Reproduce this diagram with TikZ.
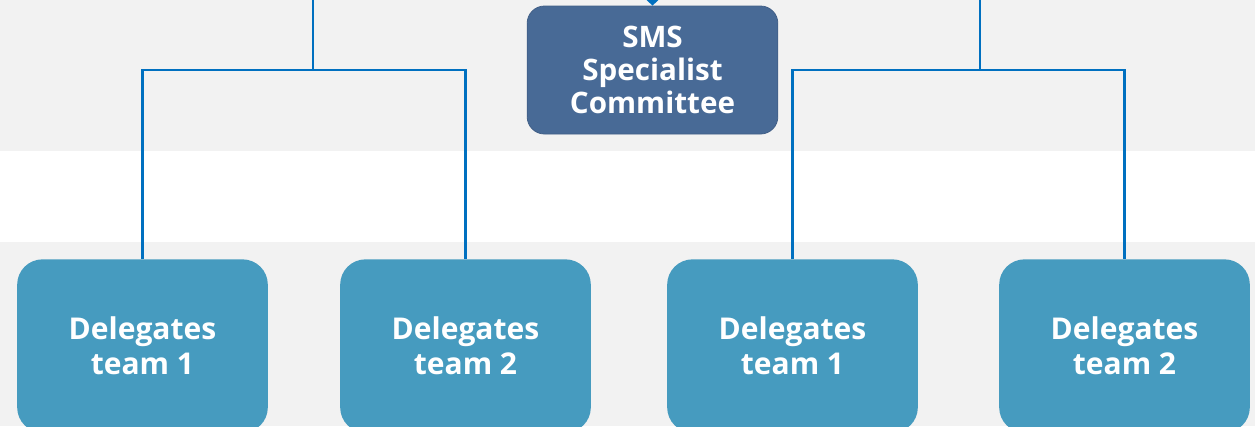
\documentclass[tikz,border=0pt]{standalone}
\usepackage{fontspec}
\setmainfont{Open Sans}
\usetikzlibrary{arrows.meta}
\definecolor{bggray}{HTML}{F2F2F2}
\definecolor{smsblue}{HTML}{486A96}
\definecolor{teamblue}{HTML}{469BBF}
\definecolor{linkblue}{HTML}{0070C0}
\begin{document}
\begin{tikzpicture}[x=0.75pt,y=-0.75pt,
  box/.style={minimum width=188pt,inner sep=0pt,text=white,align=center},
  smsbox/.style={box,rounded corners=13pt,fill=smsblue,draw=smsblue!90!black,line width=0.6pt,
    minimum height=96pt,font=\bfseries\fontsize{22.2}{24.8}\selectfont},
  teambox/.style={box,rounded corners=19pt,fill=teamblue,minimum height=130pt,
    font=\bfseries\fontsize{22.5}{26.2}\selectfont},
  link/.style={draw=linkblue,line width=2.2pt},
  ]
\useasboundingbox (0,0) rectangle (1255,426);
\clip (0,0) rectangle (1255,426);
\fill[bggray] (0,0) rectangle (1255,151);
\fill[white] (0,151) rectangle (1255,242);
\fill[bggray] (0,242) rectangle (1255,426);

\node[smsbox] (sms) at (652.5,70) {SMS\\Specialist\\Committee};
\node[teambox] (t1) at (142.5,346) {Delegates\\team 1};
\node[teambox] (t2) at (465.5,346) {Delegates\\team 2};
\node[teambox] (t3) at (792.5,346) {Delegates\\team 1};
\node[teambox] (t4) at (1124.5,346) {Delegates\\team 2};

\coordinate (topin) at (652.5,-30);
\coordinate (ltop) at (313,-10);
\coordinate (rtop) at (980,-10);

\draw[link,-{Straight Barb[length=8pt,width=17pt,line width=2.2pt]}] (topin) -- (sms.north);
\draw[link] (ltop) -- (313,70);
\draw[link] (rtop) -- (980,70);
\draw[link] (t1.north) -- (t1.north |- 0,70) -- (t2.north |- 0,70) -- (t2.north);
\draw[link] (t3.north) -- (t3.north |- 0,70) -- (t4.north |- 0,70) -- (t4.north);
\end{tikzpicture}
\end{document}
